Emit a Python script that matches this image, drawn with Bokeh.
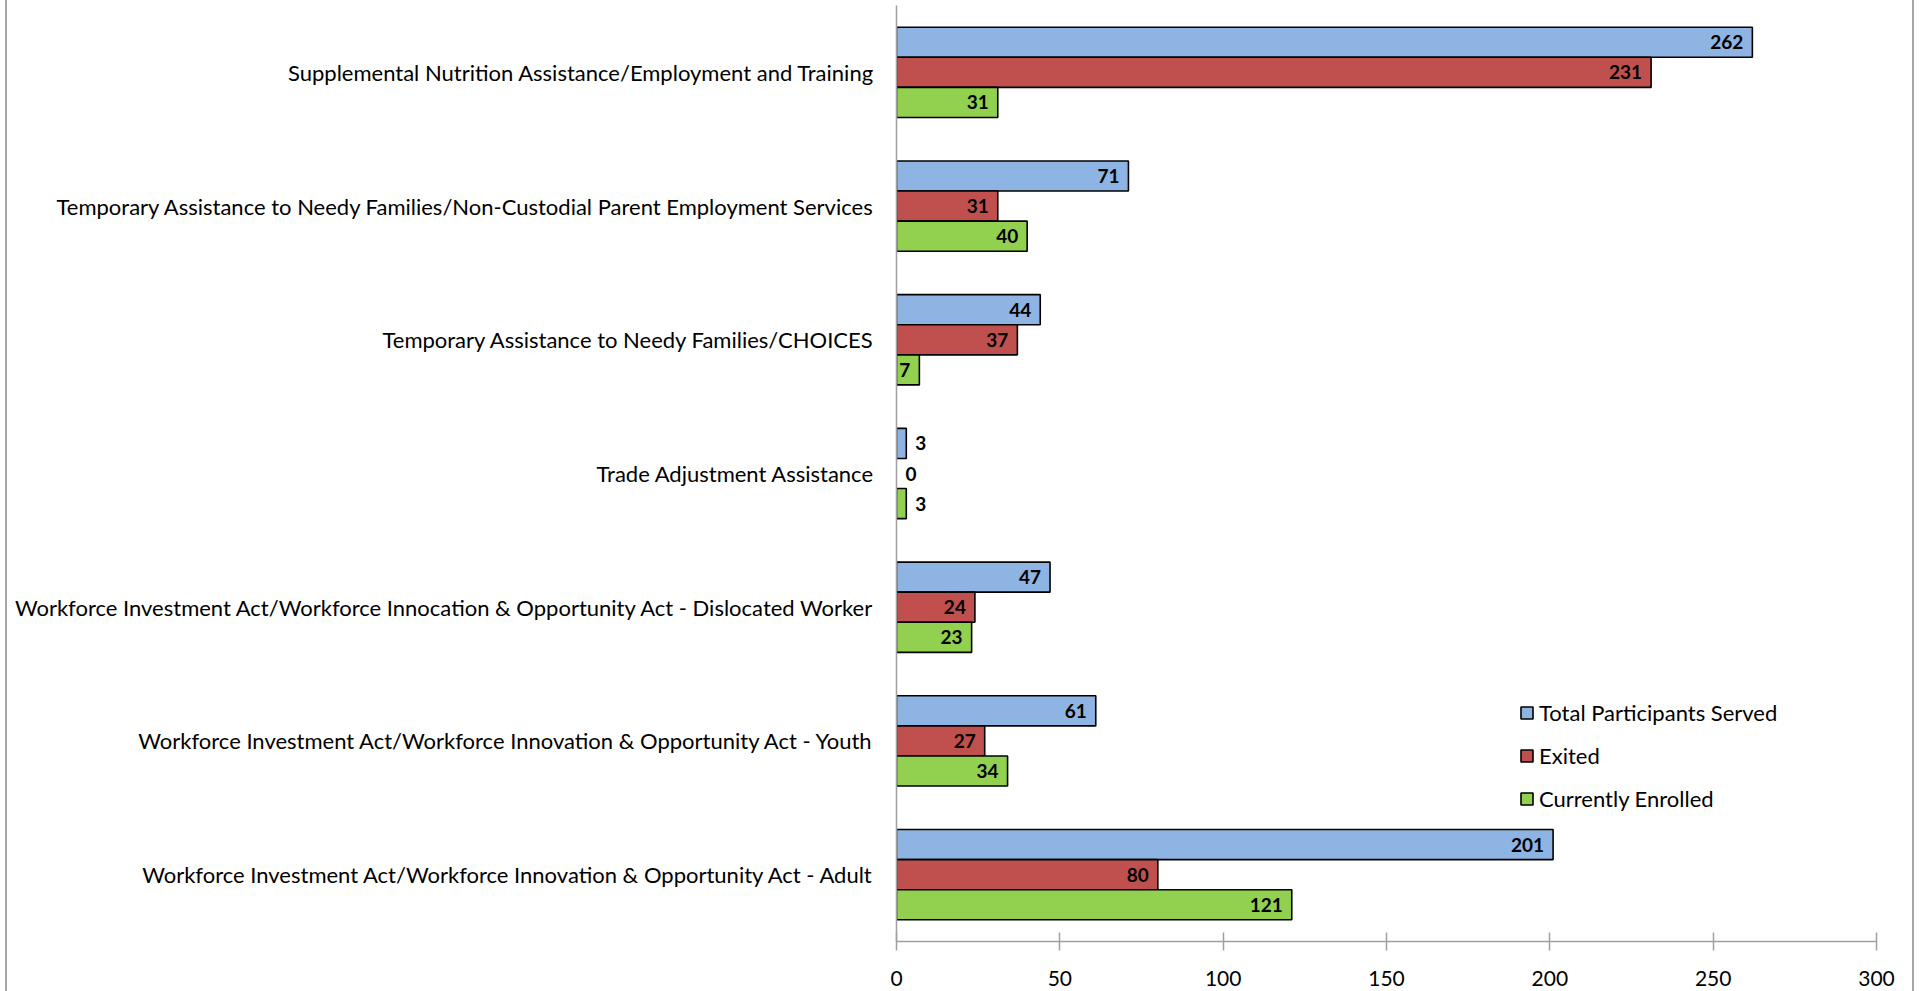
from bokeh.plotting import figure
from bokeh.models import FactorRange, ColumnDataSource, Legend, LegendItem, FixedTicker, Range1d
from bokeh.transform import dodge
from bokeh.embed import file_html
from bokeh.resources import INLINE
from bokeh.core.properties import value

# categories listed bottom -> top
programs = [
    "Workforce Investment Act/Workforce Innovation & Opportunity Act - Adult",
    "Workforce Investment Act/Workforce Innovation & Opportunity Act - Youth",
    "Workforce Investment Act/Workforce Innocation & Opportunity Act - Dislocated Worker",
    "Trade Adjustment Assistance",
    "Temporary Assistance to Needy Families/CHOICES",
    "Temporary Assistance to Needy Families/Non-Custodial Parent Employment Services",
    "Supplemental Nutrition Assistance/Employment and Training",
]
total_served = [201, 61, 47, 3, 44, 71, 262]
exited = [80, 27, 24, 0, 37, 31, 231]
currently_enrolled = [121, 34, 23, 3, 7, 40, 31]
series_names = ["Total Participants Served", "Exited", "Currently Enrolled"]
series_colors = ["#8EB4E3", "#C0504D", "#92D050"]
x_ticks = [0, 50, 100, 150, 200, 250, 300]

FONT = "Lato"
BAR_H = 0.225
offsets = [BAR_H, 0.0, -BAR_H]

p = figure(
    width=1909, height=991,
    y_range=FactorRange(factors=programs, range_padding=0),
    x_range=Range1d(0, 300),
    output_backend="svg", toolbar_location=None,
    min_border_left=889, min_border_right=40, min_border_top=5, min_border_bottom=50,
)
p.styles = {"margin-left": "5px",
            "border-left": "2px solid #a6a6a6", "border-right": "2px solid #a6a6a6"}
p.outline_line_color = None
p.xgrid.visible = False
p.ygrid.visible = False
p.background_fill_color = "white"
p.border_fill_color = "white"

legend_items = []
for vals, name, col, off in zip([total_served, exited, currently_enrolled], series_names, series_colors, offsets):
    src = ColumnDataSource(dict(
        cat=programs, val=vals,
        la=[0.0 if v == 0 else 1.0 for v in vals],
    ))
    r = p.hbar(y=dodge("cat", off, range=p.y_range), left=0, right="val", height=BAR_H,
               fill_color=col, line_color="black", line_width=1.6, line_alpha="la", source=src)
    legend_items.append(LegendItem(label=name, renderers=[r]))

    inside = ColumnDataSource(dict(
        cat=[c for c, v in zip(programs, vals) if v >= 5],
        val=[v for v in vals if v >= 5],
        txt=[str(v) for v in vals if v >= 5],
    ))
    outside = ColumnDataSource(dict(
        cat=[c for c, v in zip(programs, vals) if v < 5],
        val=[v for v in vals if v < 5],
        txt=[str(v) for v in vals if v < 5],
    ))
    p.text(x="val", y=dodge("cat", off, range=p.y_range), text="txt", source=inside,
           text_align="right", text_baseline="middle", x_offset=-9,
           text_font=value(FONT), text_font_style="bold", text_font_size="19px", text_color="black")
    p.text(x="val", y=dodge("cat", off, range=p.y_range), text="txt", source=outside,
           text_align="left", text_baseline="middle", x_offset=9,
           text_font=value(FONT), text_font_style="bold", text_font_size="19px", text_color="black")

legend = Legend(items=legend_items, location=(623, 129), orientation="vertical",
                padding=0, margin=0, border_line_color=None, background_fill_alpha=0,
                glyph_width=15, glyph_height=15, label_height=26, spacing=16, label_standoff=5,
                label_text_font=FONT, label_text_font_size="22px", label_text_color="black")
p.add_layout(legend)

# y axis
p.yaxis.axis_line_color = "#a0a0a0"
p.yaxis.axis_line_width = 1.5
p.yaxis.major_tick_line_color = None
p.yaxis.minor_tick_line_color = None
p.yaxis.major_label_standoff = 16
p.yaxis.major_label_text_font = FONT
p.yaxis.major_label_text_font_size = "22px"
p.yaxis.major_label_text_color = "black"

# x axis
p.xaxis.ticker = FixedTicker(ticks=x_ticks)
p.xaxis.axis_line_color = "#a0a0a0"
p.xaxis.axis_line_width = 1.5
p.xaxis.major_tick_line_color = "#a0a0a0"
p.xaxis.major_tick_line_width = 1.5
p.xaxis.major_tick_in = 9
p.xaxis.major_tick_out = 9
p.xaxis.minor_tick_line_color = None
p.xaxis.major_label_standoff = 20
p.xaxis.major_label_text_font = FONT
p.xaxis.major_label_text_font_size = "21px"
p.xaxis.major_label_text_color = "black"

open("out.html", "w").write(file_html(p, INLINE))
